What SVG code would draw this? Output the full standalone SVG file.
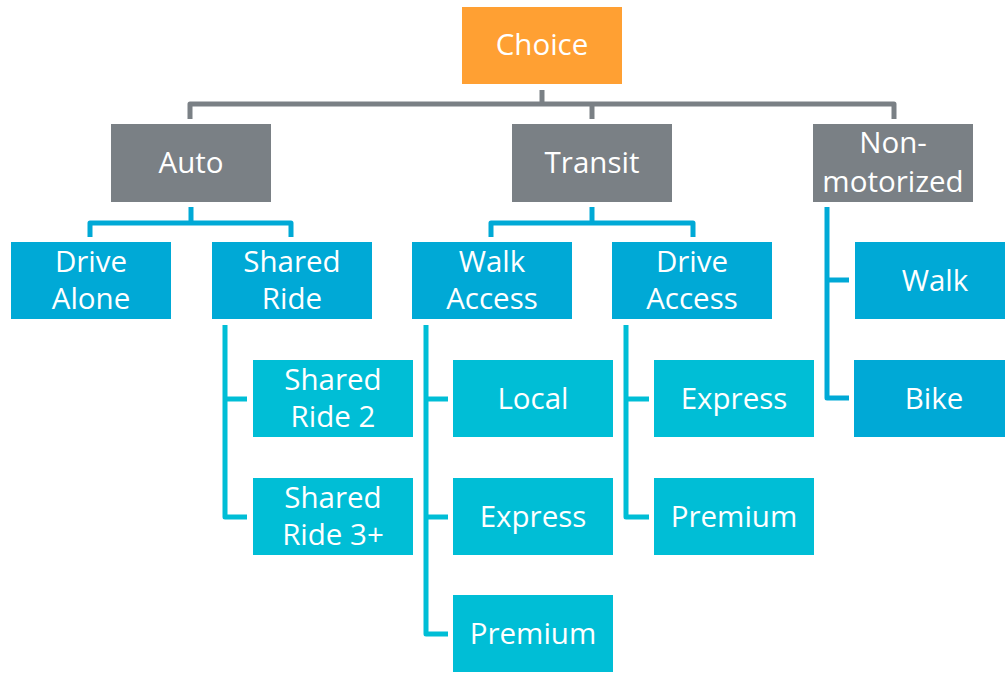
<svg xmlns="http://www.w3.org/2000/svg" width="1005" height="673" viewBox="0 0 1005 673">
<style>
text{font-family:"Open Sans","Noto Sans","DejaVu Sans",sans-serif;font-size:29.5px;fill:#ffffff;text-anchor:middle}
.orange{fill:#FFA033}
.gray{fill:#7A8085}
.blue{fill:#00A9D6}
.cyan{fill:#00BED6}
.cg{fill:none;stroke:#7A8085;stroke-width:5;stroke-linejoin:round}
.cb{fill:none;stroke:#00A9D6;stroke-width:5;stroke-linejoin:round}
.cc{fill:none;stroke:#00BED6;stroke-width:5;stroke-linejoin:round}
</style>
<rect width="1005" height="673" fill="#ffffff"/>
<g id="connectors">
<path class="cg" d="M542,90 V104"/>
<path class="cg" d="M190,119 V104 H894 V119"/>
<path class="cg" d="M592,104 V119"/>
<path class="cb" d="M191,207 V223"/>
<path class="cb" d="M90,237 V223 H291 V237"/>
<path class="cb" d="M592,207 V223"/>
<path class="cb" d="M491,237 V223 H693 V237"/>
<path class="cb" d="M827,207 V398 H849"/>
<path class="cb" d="M827,280 H849"/>
<path class="cc" d="M225,325 V517 H247"/>
<path class="cc" d="M225,399 H247"/>
<path class="cc" d="M426,325 V634 H448"/>
<path class="cc" d="M426,399 H448"/>
<path class="cc" d="M426,517 H448"/>
<path class="cc" d="M626,325 V517 H649"/>
<path class="cc" d="M626,399 H649"/>
</g>
<g id="choice"><rect class="orange" x="462" y="7" width="160" height="77"/><text x="542" y="55">Choice</text></g>
<g id="auto"><rect class="gray" x="111" y="124" width="160" height="78"/><text x="191" y="173">Auto</text></g>
<g id="transit"><rect class="gray" x="512" y="124" width="160" height="78"/><text x="592" y="173">Transit</text></g>
<g id="nonmotorized"><rect class="gray" x="813" y="124" width="160" height="78"/><text x="893" y="153">Non-</text><text x="893" y="192">motorized</text></g>
<g id="drivealone"><rect class="blue" x="11" y="242" width="160" height="77"/><text x="91" y="272">Drive</text><text x="91" y="309">Alone</text></g>
<g id="sharedride"><rect class="blue" x="212" y="242" width="160" height="77"/><text x="292" y="272">Shared</text><text x="292" y="309">Ride</text></g>
<g id="walkaccess"><rect class="blue" x="412" y="242" width="160" height="77"/><text x="492" y="272">Walk</text><text x="492" y="309">Access</text></g>
<g id="driveaccess"><rect class="blue" x="612" y="242" width="160" height="77"/><text x="692" y="272">Drive</text><text x="692" y="309">Access</text></g>
<g id="walk"><rect class="blue" x="855" y="242" width="160" height="77"/><text x="935" y="291">Walk</text></g>
<g id="bike"><rect class="blue" x="854" y="360" width="160" height="77"/><text x="934" y="409">Bike</text></g>
<g id="sharedride2"><rect class="cyan" x="253" y="360" width="160" height="77"/><text x="333" y="390">Shared</text><text x="333" y="427">Ride 2</text></g>
<g id="sharedride3"><rect class="cyan" x="253" y="478" width="160" height="77"/><text x="333" y="508">Shared</text><text x="333" y="545">Ride 3+</text></g>
<g id="local"><rect class="cyan" x="453" y="360" width="160" height="77"/><text x="533" y="409">Local</text></g>
<g id="express1"><rect class="cyan" x="453" y="478" width="160" height="77"/><text x="533" y="527">Express</text></g>
<g id="premium1"><rect class="cyan" x="453" y="595" width="160" height="77"/><text x="533" y="644">Premium</text></g>
<g id="express2"><rect class="cyan" x="654" y="360" width="160" height="77"/><text x="734" y="409">Express</text></g>
<g id="premium2"><rect class="cyan" x="654" y="478" width="160" height="77"/><text x="734" y="527">Premium</text></g>
</svg>
